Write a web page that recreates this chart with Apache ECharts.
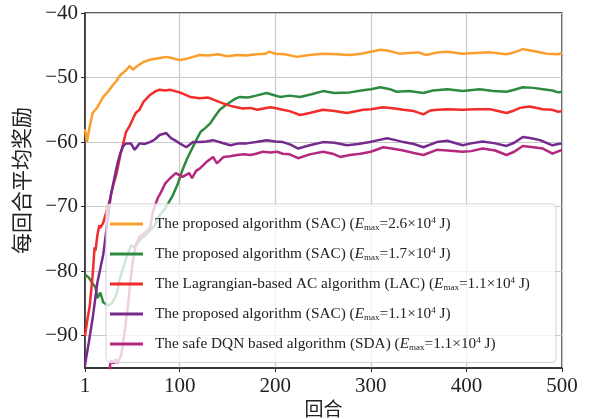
<!DOCTYPE html>
<html>
<head>
<meta charset="utf-8">
<script src="https://cdn.jsdelivr.net/npm/echarts@6/dist/echarts.min.js"></script>
<style>
	html, body { margin: 0; padding: 0; background: #fff; }
	#chart { width: 594px; height: 419px; }
</style>
</head>
<body>
<div id="chart"></div>
<script>
// x tick labels and y tick labels
var xTicks = [1, 100, 200, 300, 400, 500];
var yTicks = [-90, -80, -70, -60, -50, -40];

// legend text parts
var labelPrefix = [
	'The proposed algorithm (SAC)',
	'The proposed algorithm (SAC)',
	'The Lagrangian-based AC algorithm (LAC)',
	'The proposed algorithm (SAC)',
	'The safe DQN based algorithm (SDA)'
];
var emaxValues = ['2.6', '1.7', '1.1', '1.1', '1.1'];
var colors = ['#fb9e2c', '#2e8a3e', '#f22b2b', '#772a8e', '#b4287f'];

// SAC Emax=2.6
var orangeEp = [1, 3, 6, 9, 13, 17, 20, 25, 30, 34, 38, 43, 48, 51, 55, 62, 70, 78, 86, 93, 100, 107, 114, 121, 130, 140, 150, 160, 170, 180, 190, 194, 200, 210, 223, 235, 250, 265, 278, 290, 300, 310, 320, 330, 340, 350, 358, 370, 380, 396, 410, 425, 442, 450, 459, 470, 484, 496, 500];
var orangeVal = [-58, -60, -57.5, -55.5, -54.8, -53.8, -53, -52.2, -51.2, -50.5, -49.6, -49, -48.2, -48.8, -48.3, -47.6, -47.2, -47, -46.8, -47, -47.3, -47.1, -46.8, -46.5, -46.6, -46.4, -46.7, -46.5, -46.6, -46.4, -46.3, -46.0, -46.3, -46.4, -46.8, -46.5, -46.3, -46.4, -46.5, -46.3, -46.0, -45.7, -45.9, -46.3, -46.2, -46.1, -46.5, -46.1, -46.0, -46.3, -46.2, -46.1, -46.4, -46.1, -45.6, -45.9, -46.3, -46.4, -46.2];

// SAC Emax=1.7
var greenEp = [1, 5, 9, 12, 14, 17, 20, 25, 29, 32, 35, 37, 41, 44, 49, 53, 57, 60, 64, 67, 74, 79, 84, 88, 93, 98, 103, 108, 114, 118, 122, 127, 132, 137, 142, 148, 153, 158, 163, 170, 174, 180, 191, 198, 205, 215, 226, 238, 250, 262, 278, 290, 300, 310, 320, 327, 340, 355, 365, 380, 396, 414, 428, 442, 450, 459, 470, 480, 490, 496, 500];
var greenVal = [-80.5, -81, -81.9, -82.5, -84.2, -83.3, -84.8, -85.3, -85, -84.2, -83, -81.4, -79.5, -78, -76, -76.3, -75.5, -74.9, -74.5, -74, -72.9, -71.3, -70.5, -69.5, -68.2, -66.5, -64.3, -62.5, -60.7, -59.5, -58.4, -57.8, -57.1, -56, -55, -54.3, -53.8, -53.3, -53, -53.1, -53, -52.8, -52.4, -52.7, -53, -52.8, -53, -52.6, -52.1, -52.4, -52.3, -52.0, -51.8, -51.5, -51.8, -52.2, -52.1, -52.4, -52.0, -51.8, -52.1, -51.8, -52.1, -52.2, -51.9, -51.5, -51.6, -51.8, -52, -52.3, -52.2];

// LAC
var redEp = [1, 3, 6, 9, 11, 12, 14, 16, 17, 20, 24, 27, 30, 34, 38, 41, 44, 48, 54, 58, 62, 69, 75, 79, 85, 90, 95, 100, 105, 111, 121, 130, 142, 149, 156, 166, 174, 181, 188, 195, 202, 208, 215, 226, 236, 250, 262, 275, 292, 300, 313, 325, 334, 345, 355, 362, 370, 380, 396, 410, 425, 442, 450, 456, 466, 480, 490, 496, 500];
var redVal = [-90, -88, -85.3, -80.6, -76.3, -76.8, -74.4, -72.9, -73.3, -72.5, -70.5, -69, -67, -64.9, -62, -60.2, -58.4, -57.4, -55.5, -55, -53.8, -52.7, -52.1, -51.9, -52, -51.9, -52.1, -52.3, -52.6, -53, -53.2, -53.1, -53.8, -54.2, -54.5, -54.8, -54.7, -55, -54.8, -54.6, -54.8, -55, -55.2, -55.8, -55.5, -55, -55.2, -55.5, -55, -54.9, -54.6, -54.8, -55, -55.2, -55.7, -55.1, -55, -54.9, -55, -54.9, -54.9, -55.5, -55.1, -54.7, -54.5, -54.9, -55, -55.3, -55.2];

// SAC Emax=1.1
var purpleEp = [1, 5, 9, 14, 20, 25, 28, 32, 35, 38, 41, 44, 49, 53, 58, 63, 69, 74, 79, 86, 91, 96, 100, 107, 114, 121, 128, 135, 144, 153, 162, 170, 180, 191, 200, 208, 216, 224, 236, 250, 262, 275, 287, 299, 308, 317, 326, 334, 345, 355, 369, 380, 396, 405, 417, 430, 442, 450, 459, 468, 477, 490, 496, 500];
var purpleVal = [-94.5, -91, -87.3, -81.7, -77.5, -71.8, -68.2, -65.4, -63.3, -61.7, -60.6, -60.2, -60.2, -61.2, -60.2, -60.3, -60, -59.6, -58.9, -58.6, -59.4, -59.8, -60.2, -60.8, -60, -60, -59.9, -59.7, -60.1, -60.5, -60.2, -60.2, -60, -59.7, -59.9, -60, -60.4, -61, -60.5, -60, -60.1, -60.5, -60.3, -60, -59.7, -59.4, -59.7, -60, -60.3, -60.8, -60, -59.8, -60.5, -60.2, -59.9, -60.2, -60.6, -60.1, -59.2, -59.4, -59.7, -60.5, -60.3, -60.2];

// SDA
var pinkEp = [26, 28, 31, 33, 35, 37, 39, 43, 46, 48, 51, 54, 58, 64, 69, 72, 77, 80, 85, 90, 96, 103, 110, 113, 117, 121, 128, 135, 139, 146, 153, 160, 167, 174, 180, 187, 195, 202, 208, 215, 224, 236, 250, 260, 268, 278, 289, 300, 313, 322, 334, 345, 355, 369, 380, 396, 405, 417, 430, 442, 450, 459, 470, 480, 490, 500];
var pinkVal = [-96, -93.8, -94.3, -93.6, -94.2, -93.6, -93, -88.8, -85.3, -82.2, -78.6, -76, -74.7, -74, -73.3, -70.8, -68.7, -67.9, -66.4, -65.6, -64.8, -65.4, -64.8, -65.6, -64.5, -64.1, -63.1, -62.3, -63.3, -62.3, -62.2, -62, -61.9, -62, -61.8, -61.5, -61.6, -61.5, -61.8, -61.9, -62.5, -61.9, -61.5, -61.8, -62.3, -62, -61.8, -61.5, -60.8, -61, -61.3, -61.7, -62, -61.2, -61.3, -61.5, -61.4, -61, -61.3, -62, -61.5, -60.6, -60.8, -61, -61.8, -61.2];

var allEp = [orangeEp, greenEp, redEp, purpleEp, pinkEp];
var allVal = [orangeVal, greenVal, redVal, purpleVal, pinkVal];

var serif = '"Liberation Serif", "Noto Sans CJK SC", serif';

function pairs(ep, val) {
	var out = [];
	for (var i = 0; i < ep.length; i++) {
		out.push([ep[i], val[i]]);
	}
	return out;
}

var names = [];
var series = [];
for (var k = 0; k < labelPrefix.length; k++) {
	names.push(labelPrefix[k] + ' (Emax=' + emaxValues[k] + '×10^4 J) #' + k);
	series.push({
		name: names[k],
		type: 'line',
		symbol: 'none',
		clip: true,
		data: pairs(allEp[k], allVal[k]),
		lineStyle: { color: colors[k], width: 2.5 },
		itemStyle: { color: colors[k] }
	});
}

var chart = echarts.init(document.getElementById('chart'));
chart.setOption({
	backgroundColor: '#fff',
	animation: false,
	grid: {
		left: 85,
		right: 32,
		top: 13,
		bottom: 51,
		outerBoundsMode: 'none',
		show: true,
		borderColor: '#2b2b2b',
		borderWidth: 1.5
	},
	legend: {
		orient: 'vertical',
		left: 106,
		top: 204,
		data: names,
		icon: 'rect',
		itemWidth: 33,
		itemHeight: 3,
		itemGap: 13.5,
		padding: [12, 26, 10, 4],
		backgroundColor: 'rgba(255,255,255,0.78)',
		borderColor: '#d4d4d4',
		borderWidth: 1,
		borderRadius: 4,
		formatter: function(name) {
			var k = names.indexOf(name);
			return '{t|' + labelPrefix[k] + ' (}{i|E}{s|max}{t|=' + emaxValues[k] + '×10}{p|4}{t| J)}';
		},
		textStyle: {
			fontFamily: serif,
			color: '#222',
			padding: [0, 0, 0, 7],
			rich: {
				t: { fontFamily: serif, fontSize: 15.3, color: '#222', lineHeight: 18 },
				i: { fontFamily: serif, fontSize: 15.3, fontStyle: 'italic', color: '#222', lineHeight: 18 },
				s: { fontFamily: serif, fontSize: 9, color: '#222', padding: [8, 0, 0, 0] },
				p: { fontFamily: serif, fontSize: 9, color: '#222', padding: [0, 0, 7, 0] }
			}
		}
	},
	xAxis: {
		type: 'value',
		min: 1,
		max: 500,
		name: '回合',
		nameLocation: 'middle',
		nameGap: 27,
		nameTextStyle: { fontFamily: serif, fontSize: 19, color: '#222' },
		axisLine: { show: true, lineStyle: { color: '#2b2b2b', width: 1.5 } },
		axisTick: { show: true, length: 4, customValues: xTicks, lineStyle: { color: '#2b2b2b' } },
		axisLabel: { customValues: xTicks, fontFamily: serif, fontSize: 21, color: '#222', margin: 8 },
		splitLine: { show: true, lineStyle: { color: '#c8c8c8', width: 1.2 } }
	},
	yAxis: {
		type: 'value',
		min: -95,
		max: -40,
		name: '每回合平均奖励',
		nameLocation: 'middle',
		nameGap: 47,
		nameTextStyle: { fontFamily: serif, fontSize: 21, color: '#222', padding: [0, 0, 0, 20] },
		axisLine: { show: true, lineStyle: { color: '#2b2b2b', width: 1.5 } },
		axisTick: { show: true, length: 4, customValues: yTicks, lineStyle: { color: '#2b2b2b' } },
		axisLabel: {
			customValues: yTicks,
			fontFamily: serif,
			fontSize: 21,
			color: '#222',
			margin: 7,
			formatter: function(v) {
				return String(v).replace('-', '−');
			}
		},
		splitLine: { show: true, lineStyle: { color: '#c8c8c8', width: 1.2 } }
	},
	series: series
});
</script>
</body>
</html>
